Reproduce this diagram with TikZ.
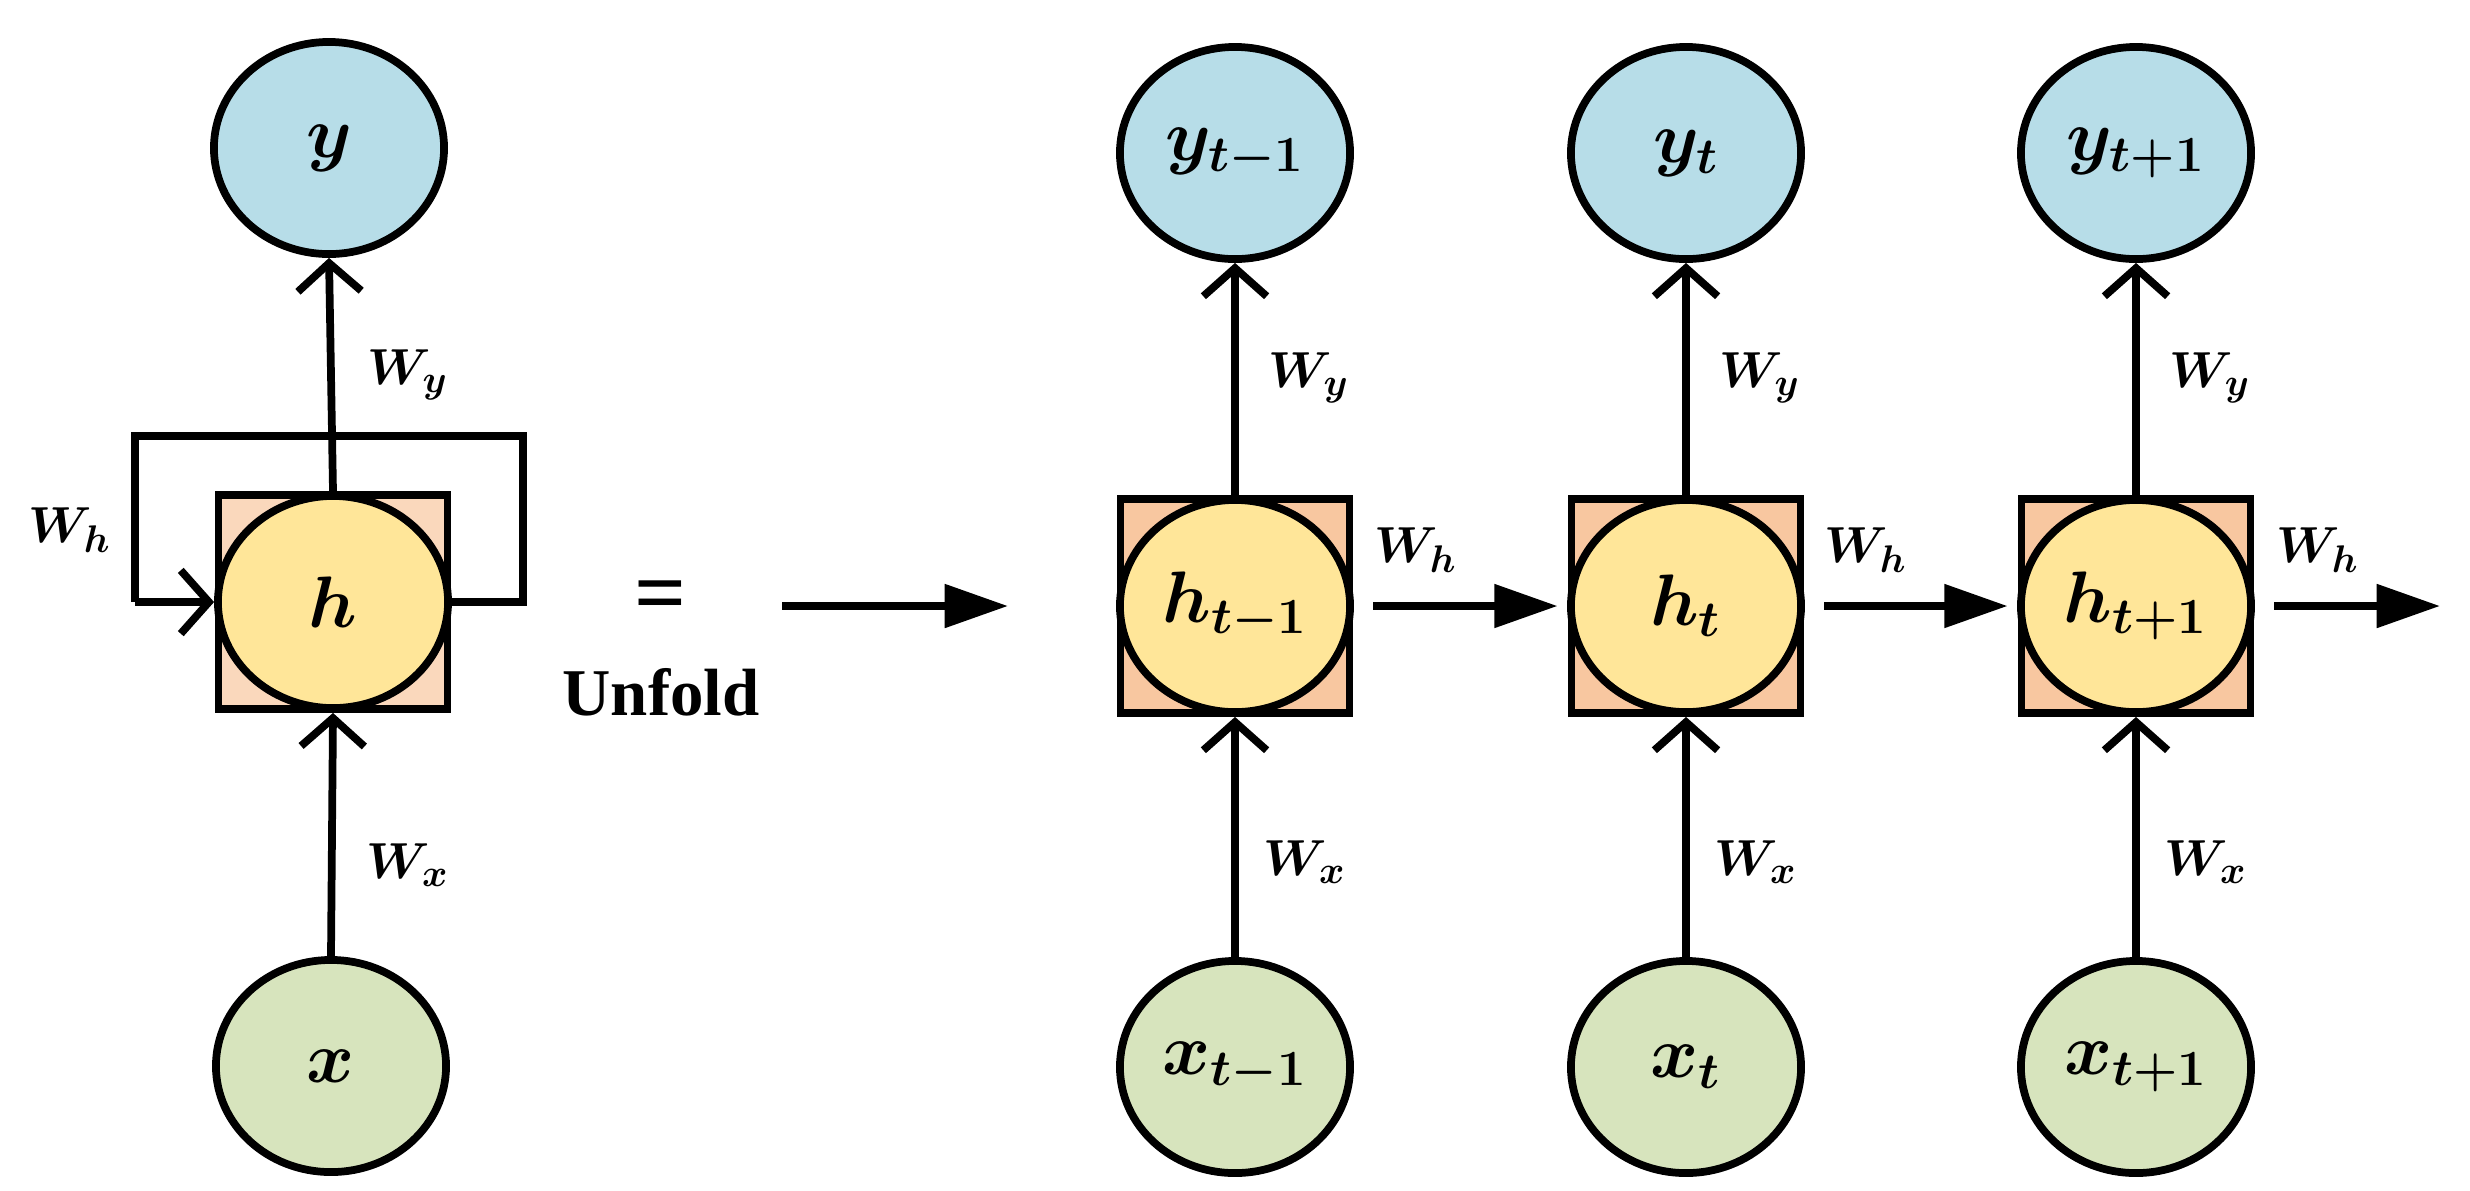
\documentclass[tikz,border=0pt]{standalone}
\usepackage{fontspec}
\setmainfont{Liberation Serif}
\usepackage{bm}
\usetikzlibrary{shapes.geometric,arrows.meta,positioning}
\definecolor{ycol}{HTML}{B7DDE8}
\definecolor{hcol}{HTML}{FFE699}
\definecolor{xcol}{HTML}{D7E4BD}
\definecolor{sqcol}{HTML}{F8C7A0}
\definecolor{sqlight}{HTML}{FAD8BC}
\begin{document}
\begin{tikzpicture}[x=0.01cm, y=-0.01cm, line width=2.2pt]

\tikzstyle{unit} = [ellipse, draw, line width=2.2pt, minimum width=2.3cm, minimum height=2.12cm, font=\fontsize{22pt}{22pt}\selectfont, inner sep=0pt]
\tikzstyle{ynode} = [unit, fill=ycol]
\tikzstyle{hnode} = [unit, fill=hcol]
\tikzstyle{xnode} = [unit, fill=xcol]
\tikzstyle{cell} = [rectangle, draw, line width=2.2pt, minimum width=2.29cm, minimum height=2.14cm, fill=sqcol]
\tikzstyle{wlab} = [font=\fontsize{15pt}{15pt}\selectfont]
\tikzstyle{up} = [-{Straight Barb[length=8pt, width=18pt, line width=2.2pt]}]
\tikzstyle{right} = [-{Triangle[length=18pt, width=12pt]}]

\useasboundingbox (0,0) rectangle (2470,1190);

% folded network
\node [cell, fill=sqlight] (sq) at (333,602) {};
\node [hnode] (h) at (333,602) {$\bm{h}$};
\node [ynode] (y) at (329,148) {$\bm{y}$};
\node [xnode] (x) at (331,1066) {$\bm{x}$};
\draw[up] (sq.north) -- (y.south);
\draw[up] (x.north) -- (sq.south);
\coordinate (loopl) at (135,436);
\coordinate (loopr) at (523,436);
\draw (sq.east) -- (loopr |- sq.east) -- (loopr) -- (loopl) -- (loopl |- h.west);
\draw[up] (loopl |- h.west) -- (h.west);
\node [wlab] (wy) at (408,375) {$\bm{W_y}$};
\node [wlab] (wx) at (408,865) {$\bm{W_x}$};
\node [wlab] (wh) at (70,530) {$\bm{W_h}$};

\node [font=\fontsize{26pt}{26pt}\selectfont\bfseries] (eq) at (661,602) {=};
\node [font=\fontsize{19pt}{19pt}\selectfont\bfseries] (unfold) at (661,692) {Unfold};
\coordinate (big_s) at (782,606);
\coordinate (big_e) at (1008,606);
\draw[right] (big_s) -- (big_e);

% unfolded network
\foreach \i/\cx/\sub in {1/1235/t-1, 2/1686/t, 3/2136/t+1} {
  \node [cell] (sq\i) at (\cx,606) {};
  \node [hnode] (h\i) at (\cx,606) {$\bm{h_{\sub}}$};
  \node [ynode] (y\i) at (\cx,153) {$\bm{y_{\sub}}$};
  \node [xnode] (x\i) at (\cx,1067) {$\bm{x_{\sub}}$};
  \draw[up] (sq\i.north) -- (y\i.south);
  \draw[up] (x\i.north) -- (sq\i.south);
  \node [wlab] (wy\i) at (\cx+74,378) {$\bm{W_y}$};
  \node [wlab] (wx\i) at (\cx+70,862) {$\bm{W_x}$};
}
\coordinate (tail) at (2440,606);
\draw[right] ([xshift=0.2cm]sq1.east) -- ([xshift=-0.1cm]sq2.west);
\draw[right] ([xshift=0.2cm]sq2.east) -- ([xshift=-0.1cm]sq3.west);
\draw[right] ([xshift=0.2cm]sq3.east) -- (tail);
\node [wlab] (wh1) at (1416,550) {$\bm{W_h}$};
\node [wlab] (wh2) at (1866,550) {$\bm{W_h}$};
\node [wlab] (wh3) at (2318,550) {$\bm{W_h}$};

\end{tikzpicture}
\end{document}
